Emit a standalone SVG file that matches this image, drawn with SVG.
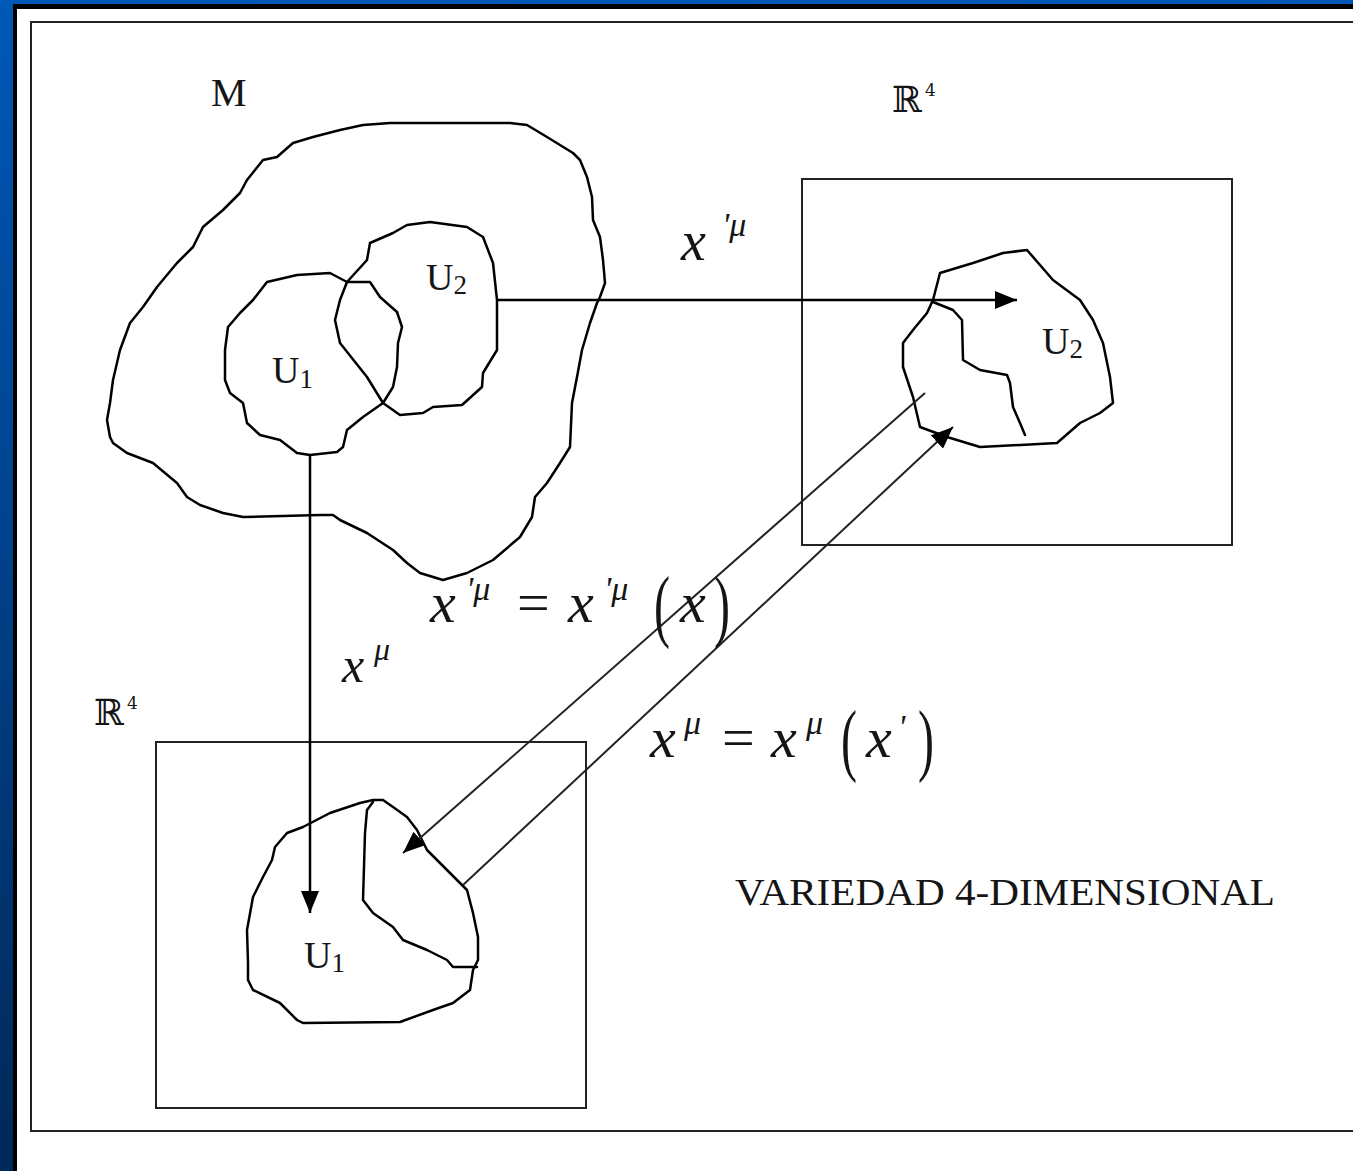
<svg xmlns="http://www.w3.org/2000/svg" width="1353" height="1171" viewBox="0 0 1353 1171">
<defs>
<linearGradient id="bg" x1="0" y1="0" x2="0" y2="1">
<stop offset="0" stop-color="#0058b8"/>
<stop offset="1" stop-color="#002858"/>
</linearGradient>
<marker id="ah" viewBox="0 0 22 18" refX="22" refY="9" markerWidth="22" markerHeight="18" markerUnits="userSpaceOnUse" orient="auto">
<path d="M0,0 L22,9 L0,18 z" fill="#000"/>
</marker>
<style>
.blob{fill:none;stroke:#000;stroke-width:2.5;stroke-linejoin:round;stroke-linecap:round}
.box{fill:none;stroke:#222;stroke-width:2}
.lbl{font-family:"Liberation Serif","Times New Roman",serif;fill:#151515}
.bb{font-family:"DejaVu Serif","DejaVu Sans",serif;fill:#151515}
.mi{font-family:"Liberation Serif","Times New Roman",serif;font-style:italic;fill:#151515}
.conn{fill:none;stroke:#000;stroke-width:2.5}
.diag{fill:none;stroke:#222;stroke-width:2}
</style>
</defs>
<rect x="0" y="0" width="1353" height="1171" fill="url(#bg)"/>
<rect x="13" y="4" width="1340" height="1167" fill="#000"/>
<rect x="17" y="9" width="1336" height="1162" fill="#fff"/>
<rect x="31" y="22" width="1400" height="1109" class="box"/>

<g id="manifold-M">
<polygon class="blob" points="390,123 510,123 527,125 547,137 573,153 580,160 587,177 592,197 593,220 600,237 603,260 605,283 600,297 597,303 590,323 582,350 577,377 572,403 570,447 560,463 547,483 535,497 532,517 520,537 493,560 467,573 443,580 420,573 407,563 393,550 367,533 340,520 333,515 320,515 243,517 223,513 200,505 187,497 177,483 153,463 127,453 113,443 110,437 107,420 110,403 113,380 120,350 130,323 143,307 157,287 177,263 193,247 203,227 223,210 240,193 247,180 263,160 277,157 293,143 313,137 340,130 363,125"/>
<text class="lbl" x="211" y="106" font-size="40">M</text>
</g>
<g id="U1-in-M">
<polygon class="blob" points="267,282 297,275 330,273 347,282 370,282 380,297 397,312 402,327 398,343 397,367 393,387 383,403 363,417 347,430 343,447 337,452 310,455 297,453 280,440 260,435 247,423 243,403 230,393 225,380 225,350 228,327 240,313 253,300"/>
<text class="lbl" x="272" y="383" font-size="38">U<tspan font-size="27" dy="5">1</tspan></text>
</g>
<g id="U2-in-M">
<polygon class="blob" points="430,222 467,227 483,237 493,263 497,300 497,350 483,373 482,387 462,405 433,407 423,413 400,415 383,403 367,377 340,343 335,320 340,300 347,282 367,260 370,243 393,233 407,225"/>
<text class="lbl" x="426" y="290" font-size="38">U<tspan font-size="27" dy="4">2</tspan></text>
</g>

<g id="R4-right">
<rect class="box" x="802" y="179" width="430" height="366"/>
<polygon class="blob" points="933,300 940,273 973,263 1003,253 1027,250 1053,280 1080,300 1093,320 1103,343 1110,377 1113,403 1100,413 1080,423 1057,443 980,447 947,437 920,427 913,397 903,367 903,343 913,330 927,313"/>
<polyline class="blob" points="933,302 953,310 962,320 963,360 980,370 1007,375 1010,383 1013,407 1020,423 1025,435"/>
<text class="lbl" x="1042" y="354" font-size="38">U<tspan font-size="27" dy="4">2</tspan></text>
<text class="bb" x="892" y="112" font-size="36">ℝ<tspan font-size="17" dy="-16" dx="3">4</tspan></text>
</g>

<g id="R4-left">
<rect class="box" x="156" y="742" width="430" height="366"/>
<polygon class="blob" points="373,800 383,800 393,807 407,817 417,830 427,850 447,870 467,890 473,913 478,937 478,960 473,970 470,990 453,1003 433,1010 400,1022 303,1023 297,1020 280,1003 253,990 248,980 248,963 247,930 253,897 263,877 272,860 275,847 287,833 303,827 330,813 360,803"/>
<polyline class="blob" points="373,802 367,810 365,833 363,900 373,913 393,927 403,940 427,950 447,960 453,967 477,967"/>
<text class="lbl" x="304" y="968" font-size="38">U<tspan font-size="27" dy="4">1</tspan></text>
<text class="bb" x="94" y="725" font-size="36">ℝ<tspan font-size="17" dy="-16" dx="3">4</tspan></text>
</g>

<g id="connectors">
<line class="conn" x1="497" y1="300" x2="1017" y2="300" marker-end="url(#ah)"/>
<line class="conn" x1="310" y1="455" x2="310" y2="913" marker-end="url(#ah)"/>
<line class="diag" x1="925" y1="393" x2="403" y2="853" marker-end="url(#ah)"/>
<line class="diag" x1="463" y1="885" x2="953" y2="427" marker-end="url(#ah)"/>
</g>

<g id="labels">
<text class="mi" x="681" y="260" font-size="56">x</text>
<text class="mi" x="722" y="236" font-size="34">'μ</text>
<text class="mi" x="342" y="682" font-size="50">x</text>
<text class="mi" x="374" y="660" font-size="32">μ</text>

<text class="mi" x="430" y="622" font-size="58">x</text>
<text class="mi" x="466" y="600" font-size="34">'μ</text>
<text class="lbl" x="517" y="622" font-size="58">=</text>
<text class="mi" x="568" y="622" font-size="58">x</text>
<text class="mi" x="604" y="600" font-size="34">'μ</text>
<text class="lbl" font-size="80" transform="translate(654,632) scale(0.6,1)">(</text>
<text class="mi" x="680" y="622" font-size="58">x</text>
<text class="lbl" font-size="80" transform="translate(714,632) scale(0.6,1)">)</text>

<text class="mi" x="650" y="757" font-size="58">x</text>
<text class="mi" x="684" y="734" font-size="34">μ</text>
<text class="lbl" x="722" y="757" font-size="58">=</text>
<text class="mi" x="771" y="757" font-size="58">x</text>
<text class="mi" x="806" y="734" font-size="34">μ</text>
<text class="lbl" font-size="80" transform="translate(841,766) scale(0.6,1)">(</text>
<text class="mi" x="866" y="757" font-size="58">x</text>
<text class="mi" x="898" y="738" font-size="34">'</text>
<text class="lbl" font-size="80" transform="translate(918,766) scale(0.6,1)">)</text>

<text class="lbl" x="735" y="905" font-size="38" textLength="540" lengthAdjust="spacingAndGlyphs">VARIEDAD 4-DIMENSIONAL</text>
</g>
</svg>
